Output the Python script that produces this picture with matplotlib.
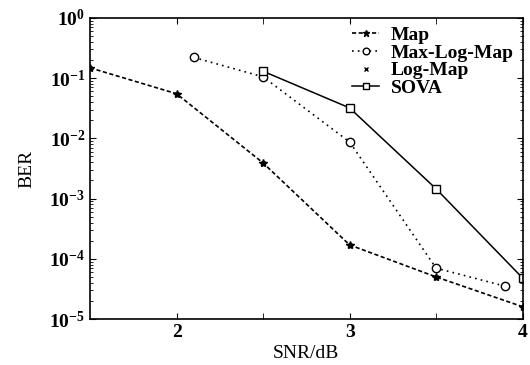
import matplotlib
matplotlib.use("Agg")
import matplotlib.pyplot as plt
from matplotlib.ticker import LogLocator, NullFormatter, FixedLocator

plt.rcParams['font.family'] = ['Liberation Serif', 'DejaVu Serif']
plt.rcParams['font.weight'] = 'bold'
plt.rcParams['mathtext.fontset'] = 'custom'
plt.rcParams['mathtext.rm'] = 'Liberation Serif:bold'
plt.rcParams['mathtext.default'] = 'rm'

map_x = [1.5, 2.0, 2.5, 3.0, 3.5, 4.0]
map_y = [0.148, 0.055, 0.0039, 1.7e-4, 5.0e-5, 1.6e-5]
maxlog_x = [2.1, 2.5, 3.0, 3.5, 3.9]
maxlog_y = [0.22, 0.105, 0.0087, 7.0e-5, 3.5e-5]
logmap_x = [1.5, 2.0, 2.5, 3.0, 3.5, 4.0]
logmap_y = [0.148, 0.055, 0.0039, 1.7e-4, 5.0e-5, 1.6e-5]
sova_x = [2.5, 3.0, 3.5, 4.0]
sova_y = [0.13, 0.032, 1.45e-3, 4.8e-5]

fig = plt.figure(figsize=(5.3, 3.65), dpi=100)
ax = fig.add_axes([0.170, 0.126, 0.816, 0.825])

ax.plot(map_x, map_y, color='black', linestyle=(0, (2.5, 1.5)), lw=1.2,
        marker='*', markersize=6, label='Map')
ax.plot(maxlog_x, maxlog_y, color='black', linestyle=(0, (1, 2.5)), lw=1.2,
        marker='o', markersize=6, markerfacecolor='white', label='Max-Log-Map')
ax.plot(logmap_x, logmap_y, color='black', linestyle='none',
        marker='x', markersize=3, label='Log-Map')
ax.plot(sova_x, sova_y, color='black', linestyle='-', lw=1.1,
        marker='s', markersize=6, markerfacecolor='white', label='SOVA')

ax.set_yscale('log')
ax.set_xlim(1.5, 4)
ax.set_ylim(1e-5, 1)
ax.xaxis.set_major_locator(FixedLocator([2, 3, 4]))
ax.xaxis.set_minor_locator(FixedLocator([2.5, 3.5]))
ax.yaxis.set_major_locator(LogLocator(base=10, numticks=10))
ax.yaxis.set_minor_locator(LogLocator(base=10, subs=range(2, 10), numticks=10))
ax.yaxis.set_minor_formatter(NullFormatter())
ax.tick_params(which='both', direction='in', top=True, right=True, labelsize=14)
ax.tick_params(which='major', length=4)
ax.tick_params(which='minor', length=2.5)
ax.tick_params(axis='x', which='minor', length=4)
for s in ax.spines.values():
    s.set_linewidth(1.2)

ax.set_xlabel('SNR/dB', fontsize=14, labelpad=3)
ax.set_ylabel('BER', fontsize=14, labelpad=10)

ax.legend(loc='upper right', frameon=False, prop={'size': 14, 'weight': 'bold'},
          handlelength=1.4, handletextpad=0.6, labelspacing=0.0, borderaxespad=0.05,
          markerscale=0.8)

fig.savefig('out.png', dpi=100)
